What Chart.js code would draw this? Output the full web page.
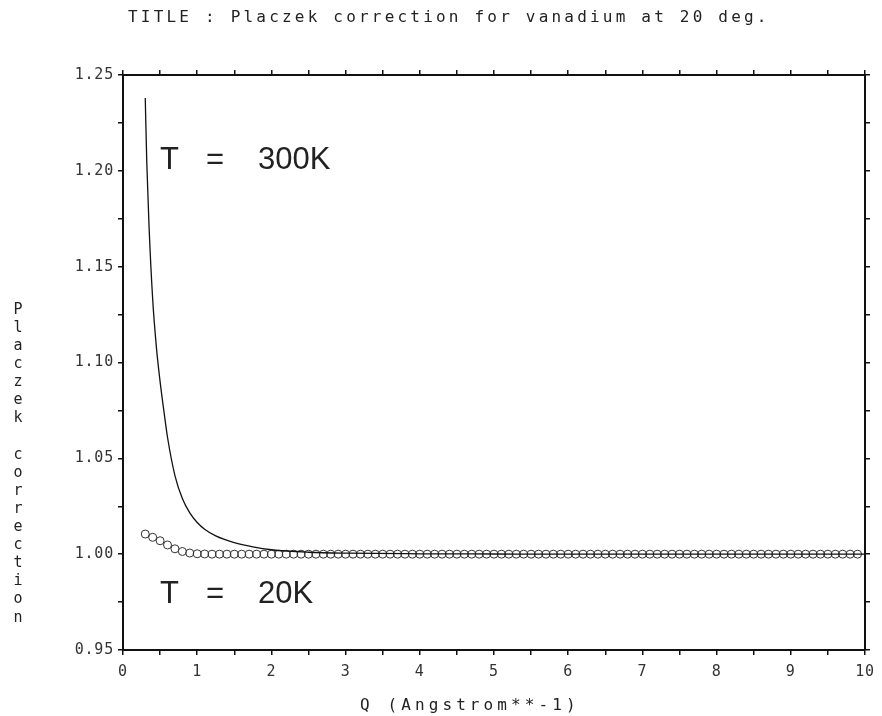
<!DOCTYPE html>
<html>
<head>
<meta charset="utf-8">
<script src="https://cdn.jsdelivr.net/npm/chart.js@4.4.1/dist/chart.umd.min.js"></script>
<style>
  html, body { margin: 0; padding: 0; background: #fff; }
  #wrap { width: 882px; height: 716px; }
</style>
</head>
<body>
<div id="wrap"><canvas id="placzekChart" width="882" height="716"></canvas></div>
<script>
// Placzek correction, vanadium at 20 deg

// T = 300K curve
const q300 = [0.30, 0.32, 0.35, 0.40, 0.45, 0.50, 0.55, 0.60, 0.70, 0.80, 0.90, 1.00, 1.10, 1.25, 1.50, 1.75, 2.00, 2.50, 3.00, 4.00, 5.00, 6.00, 7.00, 8.00, 9.00, 10.00];
const corr300 = [1.238, 1.205, 1.172, 1.133, 1.108, 1.090, 1.075, 1.061, 1.041, 1.029, 1.0215, 1.0165, 1.0130, 1.0095, 1.0060, 1.0038, 1.0023, 1.0010, 1.0005, 1.0002, 1.0001, 1.0000, 1.0000, 1.0000, 1.0000, 1.0000];

// T = 20K points (circles)
const q20 = [
  0.3, 0.4, 0.5, 0.6, 0.7, 0.8, 0.9, 1.0, 1.1, 1.2, 1.3, 1.4, 1.5, 1.6, 1.7, 1.8, 1.9, 2.0,
  2.1, 2.2, 2.3, 2.4, 2.5, 2.6, 2.7, 2.8, 2.9, 3.0, 3.1, 3.2, 3.3, 3.4, 3.5, 3.6, 3.7, 3.8, 3.9, 4.0,
  4.1, 4.2, 4.3, 4.4, 4.5, 4.6, 4.7, 4.8, 4.9, 5.0, 5.1, 5.2, 5.3, 5.4, 5.5, 5.6, 5.7, 5.8, 5.9, 6.0,
  6.1, 6.2, 6.3, 6.4, 6.5, 6.6, 6.7, 6.8, 6.9, 7.0, 7.1, 7.2, 7.3, 7.4, 7.5, 7.6, 7.7, 7.8, 7.9, 8.0,
  8.1, 8.2, 8.3, 8.4, 8.5, 8.6, 8.7, 8.8, 8.9, 9.0, 9.1, 9.2, 9.3, 9.4, 9.5, 9.6, 9.7, 9.8, 9.9
];
const corr20 = [
  1.0105, 1.0088, 1.0070, 1.0048, 1.0028, 1.0014, 1.0006, 1.0002, 1.0001, 1.0000, 1.0000, 1.0000, 1.0000, 1.0000, 1.0000, 1.0000, 1.0000, 1.0000,
  1.0000, 1.0000, 1.0000, 1.0000, 1.0000, 1.0000, 1.0000, 1.0000, 1.0000, 1.0000, 1.0000, 1.0000, 1.0000, 1.0000, 1.0000, 1.0000, 1.0000, 1.0000, 1.0000, 1.0000,
  1.0000, 1.0000, 1.0000, 1.0000, 1.0000, 1.0000, 1.0000, 1.0000, 1.0000, 1.0000, 1.0000, 1.0000, 1.0000, 1.0000, 1.0000, 1.0000, 1.0000, 1.0000, 1.0000, 1.0000,
  1.0000, 1.0000, 1.0000, 1.0000, 1.0000, 1.0000, 1.0000, 1.0000, 1.0000, 1.0000, 1.0000, 1.0000, 1.0000, 1.0000, 1.0000, 1.0000, 1.0000, 1.0000, 1.0000, 1.0000,
  1.0000, 1.0000, 1.0000, 1.0000, 1.0000, 1.0000, 1.0000, 1.0000, 1.0000, 1.0000, 1.0000, 1.0000, 1.0000, 1.0000, 1.0000, 1.0000, 1.0000, 1.0000, 1.0000
];

// axis ticks
const xTickLabels = [0, 1, 2, 3, 4, 5, 6, 7, 8, 9, 10];
const yTickLabels = [0.95, 1.00, 1.05, 1.10, 1.15, 1.20, 1.25];

const titleText = "TITLE : Placzek correction for vanadium at 20 deg.";
const xTitle = "Q (Angstrom**-1)";
const yTitle = "Placzek correction";

const mono = "'DejaVu Sans Mono', 'Liberation Mono', monospace";
const ink = "#222";

function xLabel(v) {
  const hit = xTickLabels.find((t) => Math.abs(t - v) < 1e-6);
  return hit === undefined ? "" : String(hit);
}
function yLabel(v) {
  const hit = yTickLabels.find((t) => Math.abs(t - v) < 1e-6);
  return hit === undefined ? "" : hit.toFixed(2);
}

function axisBase(min, max, step, pos, labelFn) {
  return {
    type: "linear",
    position: pos,
    min: min,
    max: max,
    ticks: {
      stepSize: step,
      autoSkip: false,
      maxRotation: 0,
      padding: pos === "bottom" ? 8 : 4,
      color: "#333",
      font: { family: mono, size: 15 },
      callback: labelFn,
    },
    grid: {
      drawOnChartArea: false,
      drawTicks: true,
      tickLength: 5,
      color: "#111",
      lineWidth: 1.5,
    },
    border: { display: true, color: "#111", width: 2 },
  };
}

// a little extra spacing for the dot-matrix look of the tick labels
const spacingPlugin = {
  id: "tickSpacing",
  beforeDraw(chart) { chart.ctx.letterSpacing = "0.8px"; },
  afterDraw(chart) { chart.ctx.letterSpacing = "0px"; },
};

// text that is not tied to an axis
const textPlugin = {
  id: "plotText",
  afterDraw(chart) {
    const c = chart.ctx;
    c.save();
    c.fillStyle = ink;

    // title
    c.font = "16px " + mono;
    c.letterSpacing = "3.2px";
    c.textAlign = "left";
    c.textBaseline = "middle";
    c.fillText(titleText, 128, 18);

    // x axis title
    c.letterSpacing = "4.1px";
    c.fillText(xTitle, 360, 706);

    // y axis title, letters stacked
    c.letterSpacing = "0px";
    c.font = "15px " + mono;
    c.textAlign = "center";
    yTitle.split("").forEach((ch, i) => {
      c.fillText(ch, 18, 310 + i * 18.1);
    });

    // curve labels
    c.font = "31px 'Liberation Sans', Arial, sans-serif";
    c.textAlign = "left";
    c.textBaseline = "alphabetic";
    c.fillText("T", 160, 169);
    c.fillText("=", 206, 169);
    c.fillText("300K", 258, 169);
    c.fillText("T", 160, 603);
    c.fillText("=", 206, 603);
    c.fillText("20K", 258, 603);
    c.restore();
  },
};

const ctx = document.getElementById("placzekChart").getContext("2d");
new Chart(ctx, {
  type: "scatter",
  data: {
    datasets: [
      {
        label: "T = 300K",
        data: q300.map((q, i) => ({ x: q, y: corr300[i] })),
        showLine: true,
        borderColor: "#111",
        borderWidth: 1.3,
        pointRadius: 0,
        cubicInterpolationMode: "monotone",
      },
      {
        label: "T = 20K",
        data: q20.map((q, i) => ({ x: q, y: corr20[i] })),
        showLine: false,
        pointStyle: "circle",
        pointRadius: 4,
        borderColor: "#333",
        borderWidth: 1,
        backgroundColor: "rgba(255,255,255,0)",
      },
    ],
  },
  options: {
    responsive: false,
    animation: false,
    layout: { padding: 0 },
    plugins: {
      legend: { display: false },
      tooltip: { enabled: false },
      title: { display: false },
    },
    scales: {
      x: Object.assign(axisBase(0, 10, 0.5, "bottom", xLabel), {
        afterFit: (s) => { s.height = 66; },
      }),
      x2: Object.assign(axisBase(0, 10, 0.5, "top", () => ""), {
        afterFit: (s) => { s.height = 75; },
      }),
      y: Object.assign(axisBase(0.95, 1.25, 0.025, "left", yLabel), {
        afterFit: (s) => { s.width = 123; },
      }),
      y2: Object.assign(axisBase(0.95, 1.25, 0.025, "right", () => ""), {
        afterFit: (s) => { s.width = 17; },
      }),
    },
  },
  plugins: [spacingPlugin, textPlugin],
});
</script>
</body>
</html>
